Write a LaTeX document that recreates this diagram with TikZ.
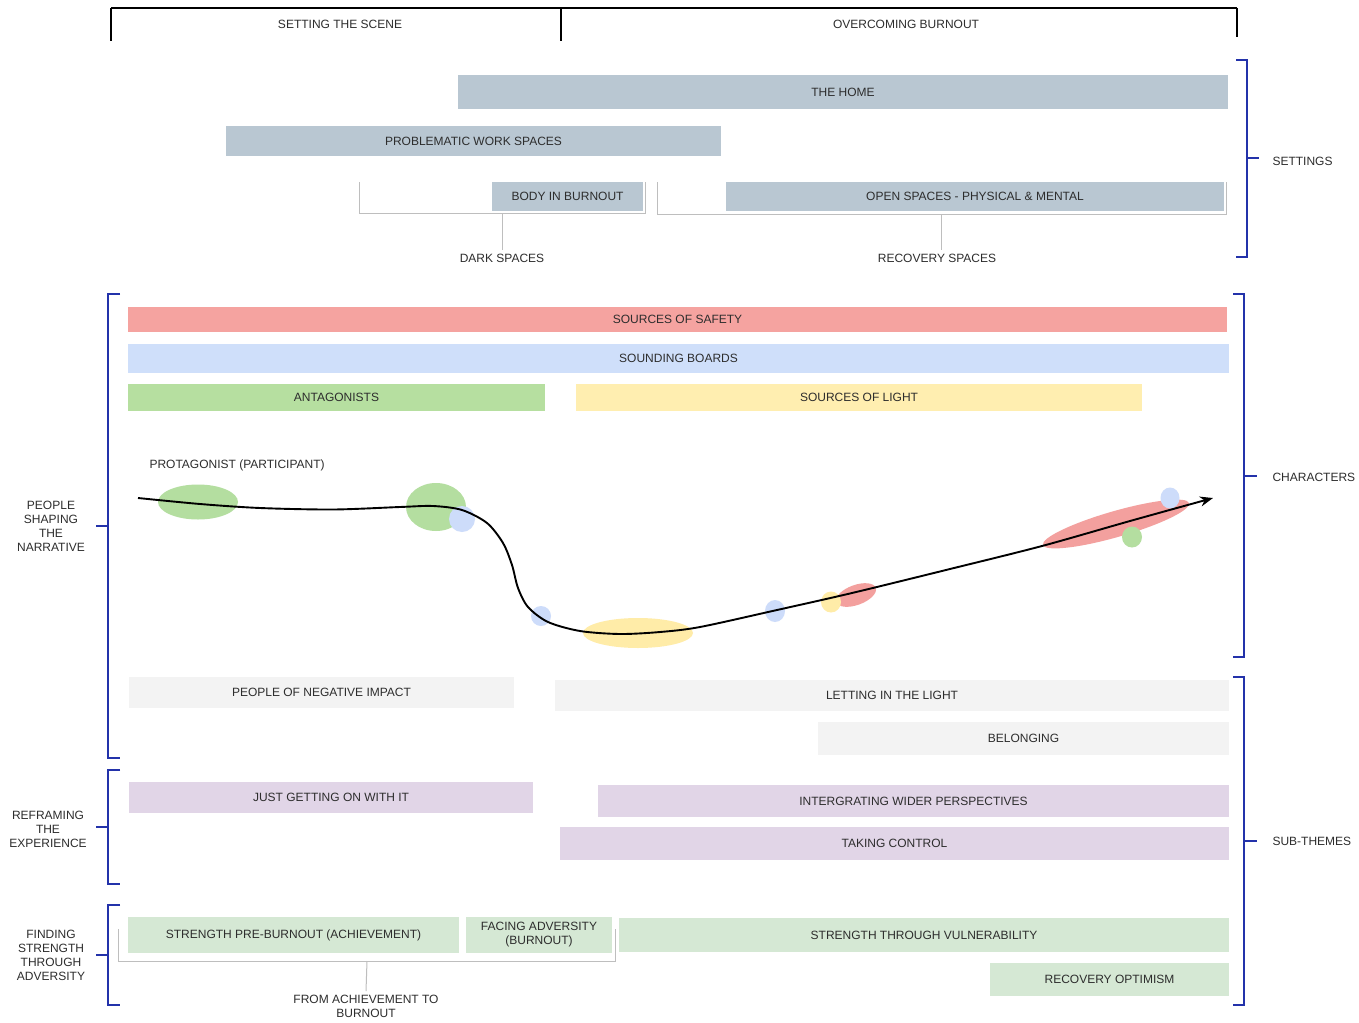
\documentclass[tikz,border=0pt]{standalone}
\usepackage{fontspec}
\setmainfont{Liberation Sans}
\usetikzlibrary{fit,arrows.meta}
\definecolor{txt}{RGB}{45,45,45}
\definecolor{setc}{RGB}{185,199,210}
\definecolor{safec}{RGB}{245,163,160}
\definecolor{soundc}{RGB}{207,223,250}
\definecolor{antc}{RGB}{182,223,160}
\definecolor{lightc}{RGB}{255,238,176}
\definecolor{negc}{RGB}{243,243,243}
\definecolor{purc}{RGB}{225,213,231}
\definecolor{strc}{RGB}{213,232,212}
\definecolor{bluebr}{RGB}{35,50,170}
\definecolor{graybr}{RGB}{190,190,190}
\definecolor{eg}{RGB}{180,222,160}
\definecolor{eb}{RGB}{205,220,250}
\definecolor{ey}{RGB}{255,236,168}
\definecolor{er}{RGB}{243,160,158}
\begin{document}
\begin{tikzpicture}[x=1pt,y=-1pt,
  every node/.style={font=\fontsize{12}{14}\selectfont, text=txt, align=center},
  bar/.style={inner sep=0pt, fill=#1, draw=none},
  bbr/.style={draw=bluebr, line width=1.8pt},
  gbr/.style={draw=graybr, line width=1pt},
  hdr/.style={draw=black, line width=2.4pt},
  hdrtick/.style={draw=black, line width=1.3pt},
  curve/.style={draw=black, line width=1.9pt, -{Stealth[length=13pt,width=10pt]}}]
\fill[white] (0,0) rectangle (1359,1022);
\useasboundingbox (0,0) rectangle (1359,1022);

% header
\draw[hdr] (111,8) -- (1237,8);
\draw[hdrtick] (111,8) -- (111,41);
\draw[hdrtick] (561,8) -- (561,41);
\draw[hdrtick] (1237,8) -- (1237,37);
\node (scene) at (340,24) {SETTING THE SCENE};
\node (overcome) at (906,24) {OVERCOMING BURNOUT};

% settings bars
\node[bar=setc, fit={(458,75) (1228,109)}] (home) {};
\node at (home.center) {THE HOME};
\node[bar=setc, fit={(226,126) (721,156)}] (work) {};
\node at (work.center) {PROBLEMATIC WORK SPACES};
\node[bar=setc, fit={(492,182) (643,211)}] (body) {};
\node at (body.center) {BODY IN BURNOUT};
\node[bar=setc, fit={(726,182) (1224,211)}] (open) {};
\node at (open.center) {OPEN SPACES - PHYSICAL \& MENTAL};

% gray brackets (settings)
\node (dark) at (502,258) {DARK SPACES};
\node (recov) at (937,258) {RECOVERY SPACES};
\coordinate (dkl) at (359,182);
\coordinate (dkr) at (645,182);
\coordinate (dkm) at (502,213);
\draw[gbr] (dkl) -- (359,213) -- (645,213) -- (dkr);
\draw[gbr] (dkm) -- (dark.north);
\coordinate (rcl) at (657,182);
\coordinate (rcr) at (1226,182);
\coordinate (rcm) at (941,214);
\draw[gbr] (rcl) -- (657,214) -- (1226,214) -- (rcr);
\draw[gbr] (rcm) -- (941,250);

% character bars
\node[bar=safec, fit={(128,307) (1227,332)}] (safety) {};
\node at (safety.center) {SOURCES OF SAFETY};
\node[bar=soundc, fit={(128,344) (1229,373)}] (sound) {};
\node at (sound.center) {SOUNDING BOARDS};
\node[bar=antc, fit={(128,384) (545,411)}] (antag) {};
\node at (antag.center) {ANTAGONISTS};
\node[bar=lightc, fit={(576,384) (1142,411)}] (light) {};
\node at (light.center) {SOURCES OF LIGHT};

\node[anchor=west] (protag) at (146,465) {PROTAGONIST (PARTICIPANT)};

% ellipses along the journey
\fill[eg] (198,502) ellipse [x radius=40, y radius=17.5];
\fill[eg] (436,507) ellipse [x radius=30, y radius=24];
\fill[eb] (462,519) circle [radius=13];
\fill[eb] (541,616) circle [radius=10];
\fill[ey] (638,633) ellipse [x radius=55, y radius=15];
\fill[eb] (775,611) ellipse [x radius=10, y radius=11];
\fill[er, rotate around={20:(856,595)}] (856,595) ellipse [x radius=21, y radius=10];
\fill[ey] (831,602) ellipse [x radius=10, y radius=10.5];
\fill[er, rotate around={16:(1116,524)}] (1116,524) ellipse [x radius=76, y radius=13];
\fill[eb] (1170,498) ellipse [x radius=9.5, y radius=10.5];
\fill[eg] (1132,537) ellipse [x radius=10, y radius=10.5];

% protagonist journey
\coordinate (pstart) at (138,498);
\coordinate (pend) at (1213,498);
\draw[curve] plot[smooth, tension=0.5] coordinates {(pstart) (200,504) (260,508) (333,509.5) (400,507) (433,506) (462,510) (487,523) (503,543) (512,565) (518,588) (528,607) (548,622) (580,631) (620,634) (660,632) (700,627) (777,610) (852,593) (950,569) (1042,546) (1130,521) (pend)};

% sub-theme bars
\node[bar=negc, fit={(129,677) (514,708)}] (neg) {};
\node at (neg.center) {PEOPLE OF NEGATIVE IMPACT};
\node[bar=negc, fit={(555,680) (1229,711)}] (letting) {};
\node at (letting.center) {LETTING IN THE LIGHT};
\node[bar=negc, fit={(818,722) (1229,755)}] (belong) {};
\node at (belong.center) {BELONGING};
\node[bar=purc, fit={(129,782) (533,813)}] (just) {};
\node at (just.center) {JUST GETTING ON WITH IT};
\node[bar=purc, fit={(598,785) (1229,817)}] (integ) {};
\node at (integ.center) {INTERGRATING WIDER PERSPECTIVES};
\node[bar=purc, fit={(560,827) (1229,860)}] (taking) {};
\node at (taking.center) {TAKING CONTROL};
\node[bar=strc, fit={(128,917) (459,953)}] (strpre) {};
\node at (strpre.center) {STRENGTH PRE-BURNOUT (ACHIEVEMENT)};
\node[bar=strc, fit={(466,917) (612,953)}] (facing) {};
\node at (facing.center) {FACING ADVERSITY\\(BURNOUT)};
\node[bar=strc, fit={(619,918) (1229,952)}] (vuln) {};
\node at (vuln.center) {STRENGTH THROUGH VULNERABILITY};
\node[bar=strc, fit={(990,963) (1229,996)}] (optim) {};
\node at (optim.center) {RECOVERY OPTIMISM};

% bottom gray bracket
\node (fromach) at (366,1006) {FROM ACHIEVEMENT TO\\BURNOUT};
\coordinate (fal) at (118,929);
\coordinate (far) at (615,929);
\coordinate (fam) at (367,961);
\draw[gbr] (fal) -- (118,961) -- (615,961) -- (far);
\draw[gbr] (fam) -- (fromach.north);

% right blue brackets
\node[anchor=west] (settings) at (1269,161) {SETTINGS};
\node[anchor=west] (chars) at (1269,477) {CHARACTERS};
\node[anchor=west] (subth) at (1269,841) {SUB-THEMES};
\draw[bbr] (1236,60) -- (1247,60) -- (1247,257) -- (1236,257);
\draw[bbr] (1247,158) -- (1259,158);
\draw[bbr] (1233,294) -- (1244,294) -- (1244,657) -- (1233,657);
\draw[bbr] (1244,476) -- (1257,476);
\draw[bbr] (1233,677) -- (1244,677) -- (1244,1005) -- (1233,1005);
\draw[bbr] (1244,841) -- (1257,841);

% left blue brackets
\node (people) at (51,526) {PEOPLE\\SHAPING\\THE\\NARRATIVE};
\node (refram) at (48,829) {REFRAMING\\THE\\EXPERIENCE};
\node (finding) at (51,955) {FINDING\\STRENGTH\\THROUGH\\ADVERSITY};
\draw[bbr] (120,294) -- (108,294) -- (108,758) -- (120,758);
\draw[bbr] (108,526) -- (96,526);
\draw[bbr] (120,770) -- (108,770) -- (108,884) -- (120,884);
\draw[bbr] (108,827) -- (96,827);
\draw[bbr] (120,905) -- (108,905) -- (108,1005) -- (120,1005);
\draw[bbr] (108,955) -- (96,955);
\end{tikzpicture}
\end{document}
